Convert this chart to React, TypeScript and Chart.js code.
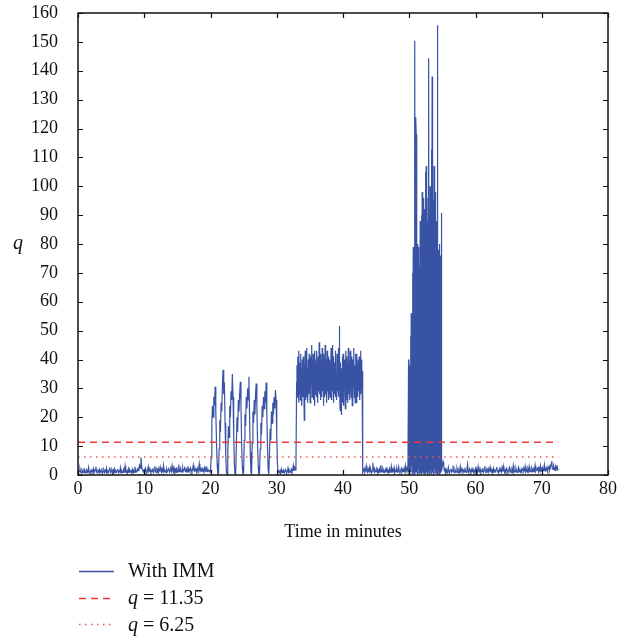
import React, { useEffect, useRef } from "react";
import { Chart, registerables } from "chart.js";

Chart.register(...registerables);

// t = 0.0 .. 19.9 (step 0.1)
const base1 = [
  1.2, 0.8, 1.5, 2.1, 1.0, 0.6, 1.8, 1.3, 0.9, 2.4, 1.1, 0.7, 1.6, 1.9, 0.8, 1.2, 2.6, 1.0, 0.5, 1.4,
  1.7, 0.9, 1.3, 2.2, 0.6, 1.1, 1.8, 2.9, 1.0, 0.7, 1.5, 1.2, 2.0, 0.8, 1.4, 1.0, 2.3, 0.6, 1.2, 1.7,
  0.9, 1.6, 1.1, 2.4, 0.7, 1.3, 1.0, 1.9, 2.7, 0.8, 1.2, 1.5, 0.6, 1.8, 1.1, 2.1, 0.9, 1.4, 1.0, 1.6,
  2.0, 0.8, 1.3, 1.1, 2.5, 0.7, 1.6, 1.2, 0.9, 1.9, 1.4, 3.1, 1.0, 0.8, 1.5, 1.2, 2.2, 0.9, 1.7, 1.1,
  1.4, 0.8, 2.0, 1.2, 1.6, 0.9, 2.8, 1.3, 1.1, 1.8, 2.2, 1.5, 2.6, 3.4, 2.4, 6.1, 3.2, 2.0, 1.5, 1.2,
  1.8, 1.0, 2.3, 1.4, 0.8, 1.6, 2.9, 1.1, 1.3, 2.0, 0.9, 1.5, 1.2, 2.4, 1.0, 1.7, 3.0, 1.3, 0.8, 1.9,
  1.2, 2.2, 1.0, 1.6, 2.8, 1.4, 0.9, 2.0, 1.3, 3.3, 1.1, 1.8, 1.5, 0.8, 2.1, 1.3, 1.7, 2.6, 1.0, 1.4,
  2.0, 1.2, 3.2, 1.6, 1.0, 2.4, 1.3, 1.9, 0.9, 2.7, 1.5, 1.1, 3.6, 1.8, 1.2, 2.2, 1.6, 1.0, 2.5, 1.4,
  1.8, 2.9, 1.2, 1.6, 2.1, 1.0, 3.0, 1.4, 1.9, 1.2, 2.4, 1.7, 1.1, 2.0, 3.4, 1.5, 1.3, 2.2, 1.6, 1.0,
  2.3, 1.4, 1.8, 3.8, 1.6, 2.1, 1.2, 2.7, 1.5, 1.9, 1.1, 2.4, 1.3, 3.0, 1.7, 1.2, 2.0, 1.4, 1.6, 1.1,
];

// t = 20.0 .. 30.2 (step 0.1)
const osc = [
  1.2, 6, 18, 24, 20, 27, 24, 30.6, 22, 12,
  4, 0.5, 0.3, 9, 19, 15, 25, 22, 31, 36.4,
  28, 32, 18, 7, 1, 0.2, 6, 17, 13, 24,
  20, 29, 26, 35, 27, 14, 4, 0.3, 0.5, 10,
  20, 15, 26, 22, 28, 32.3, 24, 11, 3, 0.2,
  1, 12, 21, 17, 27, 23, 30, 26, 34, 20,
  8, 1, 0.3, 11, 22, 18, 26, 21, 28, 31.7,
  24, 12, 3, 0.2, 0.6, 9, 18, 14, 24, 20,
  27, 23, 29, 25, 32, 22, 10, 2, 0.3, 7,
  16, 12, 22, 18, 25, 21, 27, 23, 29.4, 26,
  14, 4, 1.0,
];

// t = 30.3 .. 32.9 (step 0.1)
const base2 = [
  1.2, 0.8, 1.5, 1.0, 2.1, 0.9, 1.3, 1.7, 0.7, 1.1, 1.9, 1.4, 0.8, 1.2, 2.4, 1.0, 1.5, 0.9, 1.3, 2.0,
  1.1, 1.6, 3.2, 1.4, 2.6, 1.8, 3.5,
];

// t = 33.00 .. 42.95 (step 0.05)
const plateau = [
  32, 38, 27, 41, 30, 36, 25, 43, 31, 28, 39, 26, 42, 33, 29, 37, 24, 40, 31, 27,
  41, 28, 35, 19, 38, 30, 43, 26, 34, 29, 44, 27, 37, 31, 25, 40, 33, 28, 42, 30,
  36, 25, 41, 29, 38, 33, 45, 27, 35, 30, 42, 26, 39, 31, 24, 43, 28, 36, 32, 40,
  27, 43, 31, 37, 25, 41, 34, 29, 46, 28, 38, 32, 26, 42, 30, 35, 27, 44, 33, 29,
  39, 24, 42, 30, 36, 27, 45, 31, 28, 40, 33, 25, 43, 29, 37, 32, 26, 41, 34, 28,
  40, 27, 36, 30, 44, 26, 38, 32, 29, 45, 31, 25, 41, 34, 28, 39, 30, 43, 27, 35,
  33, 26, 42, 29, 38, 31, 27, 44, 30, 51.6, 35, 23, 39, 22, 34, 20.8, 37, 28, 41, 25,
  42, 28, 36, 24, 40, 31, 38, 23, 43, 30, 35, 26, 41, 29, 37, 25, 44, 32, 28, 39,
  36, 26, 43, 30, 38, 27, 41, 33, 24, 40, 29, 35, 31, 44, 27, 38, 30, 25, 42, 33,
  38, 25, 42, 31, 36, 27, 40, 33, 29, 41, 26, 37, 30, 43, 28, 35, 31, 40, 27, 36,
];

// t = 43.0 .. 49.8 (step 0.1)
const base3 = [
  0.8, 1.5, 2.2, 1.0, 1.7, 3.1, 1.2, 0.9, 2.0, 1.4, 2.6, 1.1, 1.8, 0.7, 1.3, 4.2, 1.6, 2.3, 1.0, 1.5,
  1.2, 2.8, 0.9, 1.7, 1.3, 2.1, 1.0, 3.4, 1.5, 1.1, 2.4, 1.8, 0.8, 1.4, 2.0, 1.2, 2.7, 1.0, 1.6, 1.3,
  2.2, 0.9, 1.5, 3.0, 1.1, 1.8, 1.3, 2.5, 0.8, 1.6, 1.2, 2.1, 1.0, 1.7, 2.9, 1.3, 0.9, 1.5, 2.3, 1.1,
  1.8, 1.2, 2.0, 1.4, 3.2, 1.0, 1.6, 2.4, 1.3,
];

// t = 49.90 .. 55.00 (step 0.05)
const spikes = [
  40, 1,
  12, 0.5, 38, 2, 48, 1, 56, 3, 52, 0.5, 70, 2, 79, 1, 78, 0.4, 80, 150.4,
  1, 85, 124, 118, 0.8, 76, 1.5, 80, 0.3, 74, 2, 79, 0.6, 72, 1, 88, 0.5, 82, 1.8, 90,
  0.4, 98, 1.2, 86, 0.7, 96, 2, 84, 0.3, 92, 1.5, 105, 0.6, 107, 1, 94, 0.5, 88, 2.2, 96,
  0.8, 144.3, 1, 90, 0.4, 100, 1.7, 94, 0.6, 112.6, 2, 138, 0.9, 99, 1.3, 95, 0.5, 107, 2.1, 92,
  0.7, 98, 1, 88, 0.4, 86, 1.6, 155.8, 0.8, 78, 1.2, 74, 0.5, 80, 2, 76, 0.6, 72, 1.4, 90.7,
  3, 2.5,
];

// t = 55.1 .. 72.5 (step 0.1)
const base4 = [
  4.6, 3.2, 1.5, 2.1, 1.0, 1.8, 0.7, 1.3, 2.6, 1.1, 0.9, 1.6, 2.2, 1.0, 1.4, 3.3, 1.2, 0.8, 1.9, 1.3,
  1.0, 2.4, 1.5, 0.7, 1.8, 1.2, 2.9, 1.0, 1.4, 2.0, 0.8, 1.6, 1.1, 2.5, 1.3, 0.9, 1.7, 3.6, 1.2, 1.0,
  2.1, 1.4, 0.8, 1.9, 1.2, 2.6, 1.0, 1.5, 0.7, 2.2, 1.3, 1.8, 1.0, 2.9, 1.4, 1.1, 2.0, 0.9, 1.6, 1.2,
  2.4, 1.0, 1.7, 3.1, 1.2, 0.8, 1.9, 1.4, 2.2, 1.0, 1.5, 2.7, 1.1, 0.9, 1.8, 1.3, 2.3, 1.0, 1.6, 1.2,
  1.9, 2.8, 1.1, 1.4, 0.8, 2.1, 1.3, 1.7, 1.0, 2.5, 1.2, 3.0, 1.5, 0.9, 1.8, 1.1, 2.2, 1.4, 1.0, 1.7,
  2.6, 1.2, 1.5, 0.8, 2.0, 1.3, 3.2, 1.0, 1.6, 1.1, 2.3, 1.4, 0.9, 1.8, 2.7, 1.2, 1.5, 1.0, 2.1, 1.3,
  1.7, 2.4, 1.1, 1.5, 3.0, 1.2, 1.8, 1.0, 2.2, 1.4, 2.9, 1.3, 1.6, 1.1, 2.5, 1.9, 1.2, 2.0, 1.5, 3.3,
  1.4, 2.1, 1.7, 2.8, 1.2, 2.4, 1.6, 3.1, 1.3, 2.0, 2.6, 1.5, 1.9, 3.5, 1.4, 2.2, 1.8, 2.7, 1.6, 2.3,
  3.0, 1.7, 2.5, 3.8, 4.8, 2.2, 1.9, 3.2, 2.4, 1.6, 2.8, 2.0, 3.4, 1.8, 2.1,
];

const qSegments = [base1, osc, base2, plateau, base3, spikes, base4];
const segStart = [0, 20, 30.3, 33, 43, 49.9, 55.1];
const segStep = [0.1, 0.1, 0.1, 0.05, 0.1, 0.05, 0.1];

const thresholdHigh = 11.35;
const thresholdLow = 6.25;
const thresholdStart = 0;
const thresholdEnd = 72.5;

const xMin = 0, xMax = 80, xStep = 10;
const yMin = 0, yMax = 160, yStep = 10;

const seriesLabel = "With IMM";
const xTitle = "Time in minutes";
const yTitle = "q";

const BLUE = "#3953a4";
const RED = "rgb(240,55,55)";
const RED_DOT = "rgb(240,80,80)";
const SERIF = '"Liberation Serif", "Times New Roman", serif';

const framePlugin = {
  id: "frameAndLegend",
  afterDraw(chart: any) {
    const { ctx, chartArea: a, scales } = chart;
    const xs = scales.x, ys = scales.y;
    ctx.save();
    ctx.strokeStyle = "#111";
    ctx.lineWidth = 1.5;
    ctx.setLineDash([]);
    ctx.strokeRect(a.left, a.top, a.right - a.left, a.bottom - a.top);
    ctx.lineWidth = 1.2;
    ctx.beginPath();
    xs.ticks.forEach((t: any) => {
      const px = Math.round(xs.getPixelForValue(t.value)) + 0.5;
      ctx.moveTo(px, a.bottom); ctx.lineTo(px, a.bottom - 5);
      ctx.moveTo(px, a.top); ctx.lineTo(px, a.top + 5);
    });
    ys.ticks.forEach((t: any) => {
      const py = Math.round(ys.getPixelForValue(t.value)) + 0.5;
      ctx.moveTo(a.left, py); ctx.lineTo(a.left + 5, py);
      ctx.moveTo(a.right, py); ctx.lineTo(a.right - 5, py);
    });
    ctx.stroke();

    // y title
    ctx.fillStyle = "#111";
    ctx.font = `italic 20px ${SERIF}`;
    ctx.textAlign = "center";
    ctx.textBaseline = "middle";
    ctx.fillText(yTitle, 18, (a.top + a.bottom) / 2);

    // legend
    const lx0 = 79, lx1 = 114, tx = 128;
    const rows = [
      { y: 571.5, base: 577, kind: "solid" },
      { y: 598.5, base: 604, kind: "dash" },
      { y: 624.5, base: 630.5, kind: "dot" },
    ];
    rows.forEach((r, i) => {
      ctx.beginPath();
      if (r.kind === "solid") { ctx.strokeStyle = BLUE; ctx.lineWidth = 1.3; ctx.setLineDash([]); }
      else if (r.kind === "dash") { ctx.strokeStyle = RED; ctx.lineWidth = 1.5; ctx.setLineDash([7, 5]); }
      else { ctx.strokeStyle = RED_DOT; ctx.lineWidth = 1.5; ctx.setLineDash([1.5, 4.5]); }
      ctx.moveTo(lx0, r.y); ctx.lineTo(lx1, r.y);
      ctx.stroke();
      ctx.setLineDash([]);
      ctx.fillStyle = "#111";
      ctx.textAlign = "left";
      ctx.textBaseline = "alphabetic";
      if (i === 0) {
        ctx.font = `20px ${SERIF}`;
        ctx.fillText(seriesLabel, tx, r.base);
      } else {
        const val = i === 1 ? thresholdHigh : thresholdLow;
        ctx.font = `italic 20px ${SERIF}`;
        ctx.fillText("q", tx, r.base);
        const w = ctx.measureText("q").width;
        ctx.font = `20px ${SERIF}`;
        ctx.fillText(" = " + val.toFixed(2), tx + w, r.base);
      }
    });
    ctx.restore();
  },
};

export default function App() {
  const ref = useRef<HTMLCanvasElement | null>(null);

  useEffect(() => {
    if (!ref.current) return;
    const points: { x: number; y: number }[] = [];
    qSegments.forEach((seg, s) => {
      seg.forEach((v, i) => {
        points.push({ x: Math.round((segStart[s] + i * segStep[s]) * 100) / 100, y: v });
      });
    });
    const chart = new Chart(ref.current, {
      type: "line",
      data: {
        datasets: [
          {
            label: "q = 6.25",
            data: [{ x: thresholdStart, y: thresholdLow }, { x: thresholdEnd, y: thresholdLow }],
            borderColor: RED_DOT,
            borderWidth: 1.5,
            borderDash: [1.5, 4.5],
            pointRadius: 0,
          },
          {
            label: "q = 11.35",
            data: [{ x: thresholdStart, y: thresholdHigh }, { x: thresholdEnd, y: thresholdHigh }],
            borderColor: RED,
            borderWidth: 1.5,
            borderDash: [7, 5],
            pointRadius: 0,
          },
          {
            label: seriesLabel,
            data: points,
            borderColor: BLUE,
            borderWidth: 1.2,
            pointRadius: 0,
            tension: 0,
          },
        ],
      },
      options: {
        responsive: false,
        animation: false,
        events: [],
        layout: { padding: { top: 13, right: 25, bottom: 94, left: 0 } },
        plugins: { legend: { display: false }, tooltip: { enabled: false } },
        scales: {
          x: {
            type: "linear",
            min: xMin,
            max: xMax,
            grid: { display: false, drawTicks: false, tickLength: 0 },
            border: { display: false },
            ticks: { stepSize: xStep, padding: 3, color: "#111", font: { family: SERIF, size: 18 } },
            title: {
              display: true,
              text: xTitle,
              color: "#111",
              font: { family: SERIF, size: 18 },
              padding: { top: 0, bottom: 2 },
            },
            afterFit: (s: any) => { s.height = 70; s.paddingLeft = 0; s.paddingRight = 0; },
          },
          y: {
            type: "linear",
            min: yMin,
            max: yMax,
            grid: { display: false, drawTicks: false, tickLength: 0 },
            border: { display: false },
            ticks: { stepSize: yStep, padding: 20, color: "#111", font: { family: SERIF, size: 18 } },
            afterFit: (s: any) => { s.width = 78; s.paddingTop = 0; s.paddingBottom = 0; },
          },
        },
      },
      plugins: [framePlugin],
    } as any);
    return () => chart.destroy();
  }, []);

  return (
    <div style={{ position: "absolute", left: 0, top: 0, width: 633, height: 639, background: "#fff" }}>
      <canvas ref={ref} width={633} height={639} style={{ width: 633, height: 639, display: "block" }} />
    </div>
  );
}
